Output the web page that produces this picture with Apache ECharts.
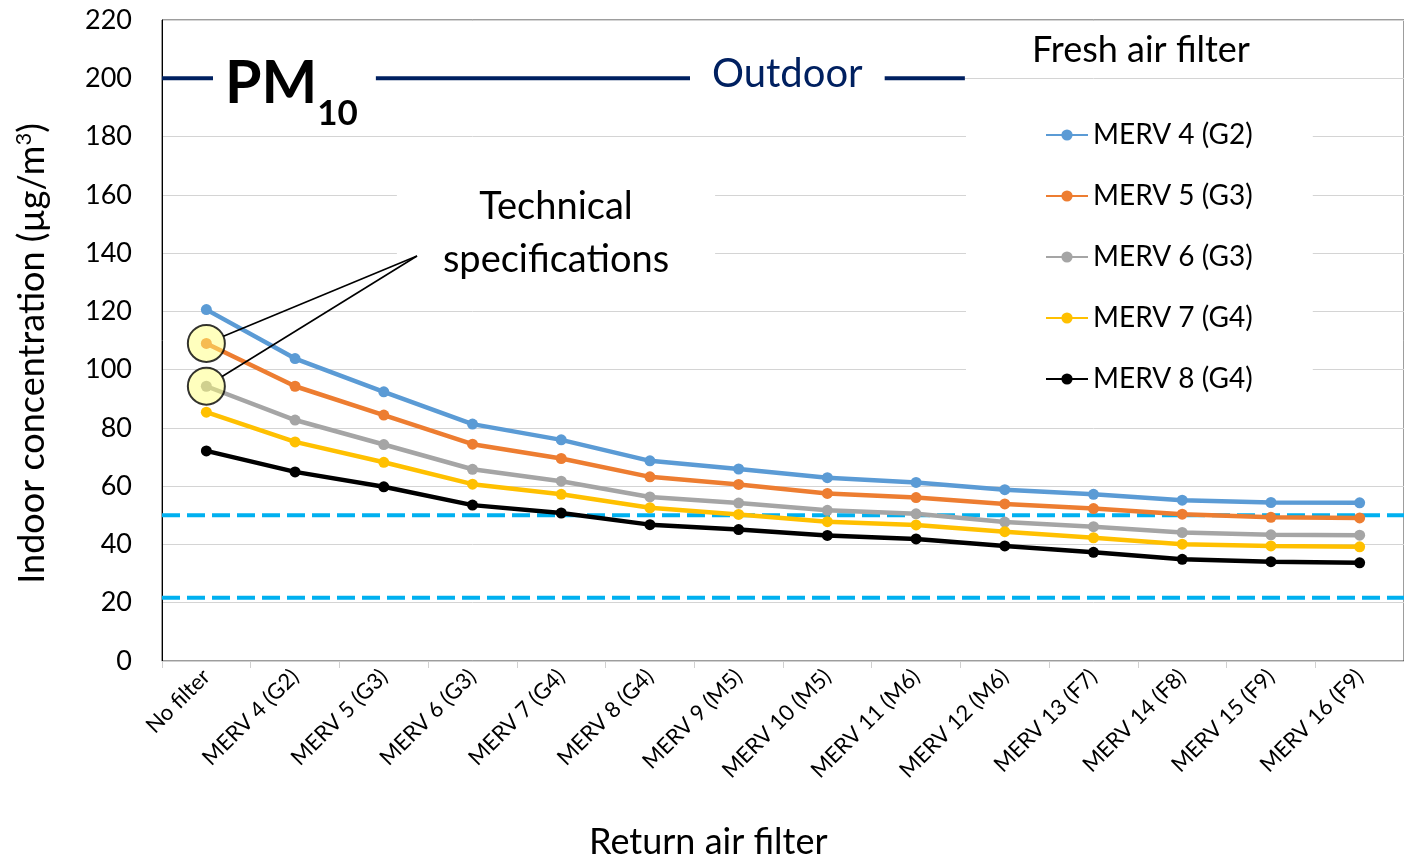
<!DOCTYPE html>
<html>
<head>
<meta charset="utf-8">
<script src="https://cdn.jsdelivr.net/npm/echarts@6/dist/echarts.min.js"></script>
<style>
  html, body { margin: 0; padding: 0; background: #fff; }
  #main { width: 1404px; height: 861px; }
</style>
</head>
<body>
<div id="main"></div>
<script>
var categories = ['No filter', 'MERV 4 (G2)', 'MERV 5 (G3)', 'MERV 6 (G3)', 'MERV 7 (G4)', 'MERV 8 (G4)',
  'MERV 9 (M5)', 'MERV 10 (M5)', 'MERV 11 (M6)', 'MERV 12 (M6)', 'MERV 13 (F7)', 'MERV 14 (F8)',
  'MERV 15 (F9)', 'MERV 16 (F9)'];

// fresh air filter series (indoor PM10, ug/m3)
var merv4 = [120.6, 103.8, 92.4, 81.3, 75.9, 68.7, 65.9, 62.9, 61.3, 58.8, 57.2, 55.2, 54.4, 54.3];
var merv5 = [109.0, 94.3, 84.4, 74.4, 69.5, 63.2, 60.6, 57.5, 56.1, 53.9, 52.3, 50.4, 49.3, 49.1];
var merv6 = [94.3, 82.7, 74.3, 65.8, 61.7, 56.3, 54.2, 51.7, 50.5, 47.7, 46.1, 44.1, 43.3, 43.2];
var merv7 = [85.4, 75.2, 68.2, 60.7, 57.2, 52.6, 50.3, 47.8, 46.7, 44.4, 42.3, 40.1, 39.5, 39.2];
var merv8 = [72.1, 64.9, 59.8, 53.5, 50.8, 46.8, 45.1, 43.1, 41.9, 39.5, 37.3, 34.9, 34.1, 33.7];

var seriesNames = ['MERV 4 (G2)', 'MERV 5 (G3)', 'MERV 6 (G3)', 'MERV 7 (G4)', 'MERV 8 (G4)'];
var colors = ['#5b9bd5', '#ed7d31', '#a5a5a5', '#ffc000', '#000000'];

var outdoorLevel = 200;
var limitLines = [50, 21.7];

var FONT = 'Lato, "Open Sans", sans-serif';

var chart = echarts.init(document.getElementById('main'));

var lineSeries = [merv4, merv5, merv6, merv7, merv8].map(function (d, i) {
  return {
    name: seriesNames[i],
    type: 'line',
    data: d,
    symbol: 'circle',
    symbolSize: 11,
    color: colors[i],
    lineStyle: { width: 4.5, color: colors[i] },
    itemStyle: { color: colors[i] },
    z: 3
  };
});

var limitSeries = limitLines.map(function (v) {
  return {
    type: 'line',
    xAxisIndex: 1,
    data: [[0, v], [14, v]],
    symbol: 'none',
    silent: true,
    lineStyle: { width: 4, color: '#00b0f0', type: [18, 7] },
    z: 2
  };
});

var option = {
  animation: false,
  textStyle: { fontFamily: FONT },
  grid: { left: 162, top: 20, width: 1253, height: 641, show: true, borderColor: '#3a3a3a', borderWidth: 1 },
  title: [
    {
      text: '{a|PM}{b|10}',
      left: 213, top: 50, padding: [4, 18, 4, 12],
      backgroundColor: '#fff',
      textStyle: {
        rich: {
          a: { fontFamily: FONT, fontSize: 59, fontWeight: 'bold', color: '#000', verticalAlign: 'top', lineHeight: 64 },
          b: { fontFamily: FONT, fontSize: 35, fontWeight: 'bold', color: '#000', verticalAlign: 'top', lineHeight: 35, padding: [42, 0, 0, 0] }
        }
      }
    },
    {
      text: 'Outdoor',
      left: 690, top: 48, padding: [4, 22, 4, 22],
      backgroundColor: '#fff',
      textStyle: { fontFamily: FONT, fontSize: 40, fontWeight: 'normal', color: '#002060', lineHeight: 44 }
    },
    {
      text: 'Technical\nspecifications',
      textAlign: 'center',
      left: 510, top: 174, padding: [6, 46, 6, 46],
      backgroundColor: '#fff',
      textStyle: { fontFamily: FONT, fontSize: 38, fontWeight: 'normal', color: '#000', lineHeight: 53 }
    },
    {
      text: 'Fresh air filter',
      left: 1032, top: 32, padding: 0,
      textStyle: { fontFamily: FONT, fontSize: 36, fontWeight: 'normal', color: '#000' }
    },
    {
      text: 'Return air filter',
      left: 589, top: 824, padding: 0,
      textStyle: { fontFamily: FONT, fontSize: 36, fontWeight: 'normal', color: '#000' }
    }
  ],
  legend: {
    data: seriesNames,
    orient: 'vertical',
    left: 966, top: 80,
    padding: [41, 60, 32, 79],
    backgroundColor: '#fff',
    itemWidth: 42, itemHeight: 14, itemGap: 33,
    textStyle: { fontFamily: FONT, fontSize: 28, color: '#000' }
  },
  xAxis: [
    {
      type: 'category',
      data: categories,
      boundaryGap: true,
      axisLine: { lineStyle: { color: '#d0d0d0', width: 1 } },
      axisTick: { show: true, length: 7, interval: 0, lineStyle: { color: '#d0d0d0' } },
      axisLabel: { interval: 0, rotate: 45, fontSize: 22, color: '#000', margin: 12, fontFamily: FONT },
      splitLine: { show: false }
    },
    { type: 'value', min: 0, max: 14, show: false }
  ],
  yAxis: {
    type: 'value',
    min: 0, max: 220, interval: 20,
    axisLine: { show: true, lineStyle: { color: '#000', width: 1 } },
    axisTick: { show: false },
    axisLabel: { fontSize: 27, color: '#000', margin: 30, fontFamily: FONT },
    splitLine: { lineStyle: { color: '#d4d4d4', width: 1 } },
    name: 'Indoor concentration (µg/m{s|3})',
    nameLocation: 'middle',
    nameGap: 110,
    nameTextStyle: {
      fontFamily: FONT, fontSize: 36, color: '#000', padding: [0, 26, 0, 0],
      rich: { s: { fontFamily: FONT, fontSize: 22, color: '#000', verticalAlign: 'top', padding: [0, 0, 17, 0] } }
    }
  },
  series: [
    {
      type: 'line',
      xAxisIndex: 1,
      data: [[0, outdoorLevel], [9.05, outdoorLevel]],
      symbol: 'none',
      silent: true,
      lineStyle: { width: 4, color: '#002060' },
      z: 1
    }
  ].concat(limitSeries).concat(lineSeries).concat([
    {
      type: 'scatter',
      data: [[0, merv5[0]], [0, merv6[0]]],
      symbol: 'circle',
      symbolSize: 37,
      silent: true,
      itemStyle: { color: 'rgba(255,255,120,0.6)', borderColor: '#000', borderWidth: 2 },
      z: 5
    }
  ])
};

chart.setOption(option);

// callout lines from the highlighted points to the annotation text
var target = [417, 256];
var callouts = [merv5[0], merv6[0]].map(function (v) {
  var c = chart.convertToPixel({ xAxisIndex: 0, yAxisIndex: 0 }, [0, v]);
  var dx = target[0] - c[0], dy = target[1] - c[1];
  var len = Math.sqrt(dx * dx + dy * dy);
  var r = 18.5;
  return {
    type: 'line',
    z: 10,
    silent: true,
    shape: { x1: c[0] + dx / len * r, y1: c[1] + dy / len * r, x2: target[0], y2: target[1] },
    style: { stroke: '#000', lineWidth: 1.6 }
  };
});
chart.setOption({ graphic: callouts });

window.onresize = function () {
  chart.resize();
};
</script>
</body>
</html>
